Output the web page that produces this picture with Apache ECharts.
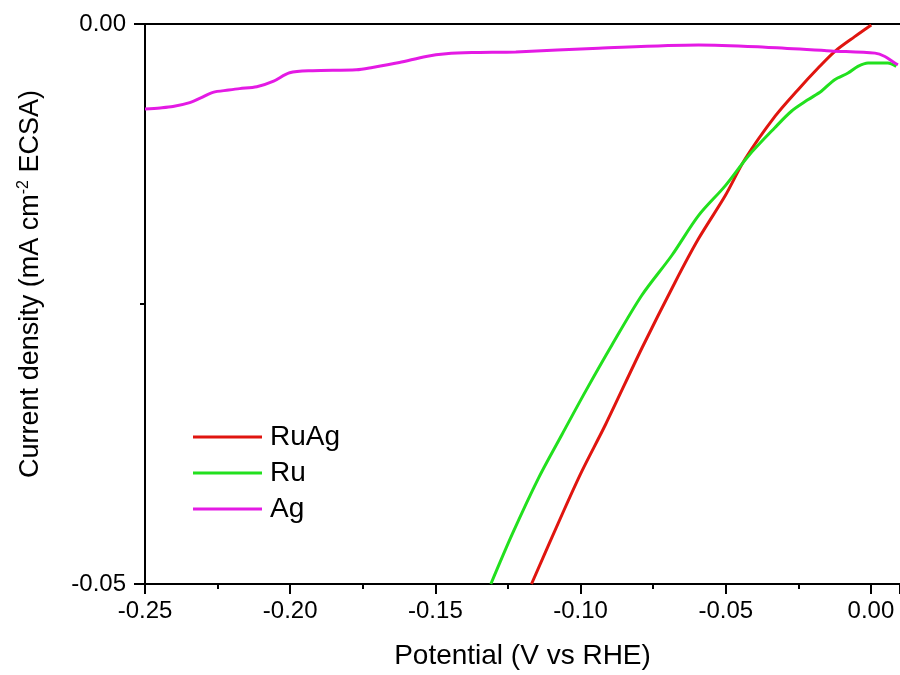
<!DOCTYPE html>
<html>
<head>
<meta charset="utf-8">
<script src="https://cdn.jsdelivr.net/npm/echarts@6/dist/echarts.min.js"></script>
<style>
  html, body { margin: 0; padding: 0; background: #fff; }
  #chart { width: 900px; height: 675px; }
</style>
</head>
<body>
<div id="chart"></div>
<script>
// Polarisation curves: potential (V vs RHE) against current density
const ruagV = [-0.1169, -0.1058, -0.0995, -0.0914, -0.0789, -0.0674, -0.0594, -0.0502, -0.0434, -0.0330, -0.0251, -0.0182, -0.0125, -0.0056, 0.0001];
const ruagJ = [-0.05000, -0.04346, -0.03990, -0.03576, -0.02895, -0.02303, -0.01918, -0.01534, -0.01208, -0.00823, -0.00586, -0.00393, -0.00246, -0.00113, -0.00009];

const ruV = [-0.1309, -0.1235, -0.1144, -0.1064, -0.0983, -0.0892, -0.0789, -0.0686, -0.0594, -0.0502, -0.0422, -0.0331, -0.0274, -0.0216, -0.0171, -0.0125, -0.0079, -0.0045, -0.0010, 0.0058, 0.0087];
const ruJ = [-0.05000, -0.04553, -0.04050, -0.03665, -0.03280, -0.02866, -0.02422, -0.02067, -0.01711, -0.01445, -0.01178, -0.00926, -0.00779, -0.00675, -0.00600, -0.00497, -0.00438, -0.00379, -0.00349, -0.00349, -0.00379];

const agV = [-0.2500, -0.2448, -0.2404, -0.2346, -0.2308, -0.2266, -0.2212, -0.2174, -0.2115, -0.2057, -0.2002, -0.1923, -0.1772, -0.1717, -0.1624, -0.1532, -0.1463, -0.1374, -0.1223, -0.0938, -0.0594, -0.0364, -0.0137, 0.0014, 0.0048, 0.0082, 0.0093];
const agJ = [-0.00758, -0.00749, -0.00737, -0.00702, -0.00660, -0.00610, -0.00590, -0.00577, -0.00560, -0.00510, -0.00435, -0.00417, -0.00409, -0.00388, -0.00344, -0.00290, -0.00266, -0.00255, -0.00249, -0.00216, -0.00187, -0.00207, -0.00240, -0.00260, -0.00290, -0.00349, -0.00364];

const seriesNames = ['RuAg', 'Ru', 'Ag'];
const seriesColors = ['#e0150f', '#22e01e', '#e41ae4'];

const xTicks = { min: -0.25, max: 0.01, step: 0.05 };
const yTicks = { min: -0.05, max: 0.00, step: 0.05 };

function pairs(xs, ys) {
  return xs.map((x, i) => [x, ys[i]]);
}

function fmt(v) {
  return (Math.abs(v) < 1e-9 ? 0 : v).toFixed(2);
}

const font = 'Liberation Sans, Arial, sans-serif';
const axisColor = '#000';

const chart = echarts.init(document.getElementById('chart'), null, { renderer: 'canvas' });

chart.setOption({
  animation: false,
  backgroundColor: '#fff',
  grid: { left: 145, right: -3, top: 24, bottom: 88, containLabel: false },
  legend: {
    orient: 'vertical',
    left: 193,
    top: 423,
    padding: 0,
    itemWidth: 69,
    itemHeight: 3,
    itemGap: 8,
    icon: 'rect',
    textStyle: { fontFamily: font, fontSize: 28, color: '#000', padding: [0, 0, 0, 3] },
    data: seriesNames
  },
  xAxis: [{
    type: 'value',
    min: xTicks.min,
    max: xTicks.max,
    interval: xTicks.step,
    name: 'Potential (V vs RHE)',
    nameLocation: 'middle',
    nameGap: 58,
    nameTextStyle: { fontFamily: font, fontSize: 28, color: '#000' },
    axisLine: { show: true, onZero: false, lineStyle: { color: axisColor, width: 2 } },
    axisTick: { show: true, inside: false, length: 10, lineStyle: { color: axisColor, width: 2 } },
    minorTick: { show: true, splitNumber: 2, length: 5, lineStyle: { color: axisColor, width: 2 } },
    axisLabel: { fontFamily: font, fontSize: 24, color: '#000', margin: 15, formatter: fmt, showMaxLabel: false },
    splitLine: { show: false }
  }, {
    type: 'value',
    position: 'top',
    min: xTicks.min,
    max: xTicks.max,
    axisLine: { show: true, onZero: false, lineStyle: { color: axisColor, width: 2 } },
    axisTick: { show: false },
    axisLabel: { show: false },
    splitLine: { show: false }
  }],
  yAxis: {
    type: 'value',
    min: yTicks.min,
    max: yTicks.max,
    interval: yTicks.step,
    name: 'Current density (mA cm{sup|-2} ECSA)',
    nameLocation: 'middle',
    nameRotate: 90,
    nameGap: 100,
    nameTextStyle: {
      fontFamily: font, fontSize: 27, color: '#000',
      padding: [0, 0, 0, 40],
      rich: {
        sup: { fontFamily: font, fontSize: 16, color: '#000', padding: [0, 0, 13, 0] }
      }
    },
    axisLine: { show: true, onZero: false, lineStyle: { color: axisColor, width: 2 } },
    axisTick: { show: true, inside: false, length: 11, lineStyle: { color: axisColor, width: 2 } },
    minorTick: { show: true, splitNumber: 2, length: 5, lineStyle: { color: axisColor, width: 2 } },
    axisLabel: { fontFamily: font, fontSize: 24, color: '#000', margin: 19, formatter: fmt },
    splitLine: { show: false }
  },
  series: [
    { name: seriesNames[0], type: 'line', data: pairs(ruagV, ruagJ) },
    { name: seriesNames[1], type: 'line', data: pairs(ruV, ruJ) },
    { name: seriesNames[2], type: 'line', data: pairs(agV, agJ) }
  ].map((s, i) => Object.assign(s, {
    smooth: 0.3,
    showSymbol: false,
    symbol: 'none',
    clip: true,
    color: seriesColors[i],
    lineStyle: { color: seriesColors[i], width: 3 }
  }))
});
</script>
</body>
</html>
